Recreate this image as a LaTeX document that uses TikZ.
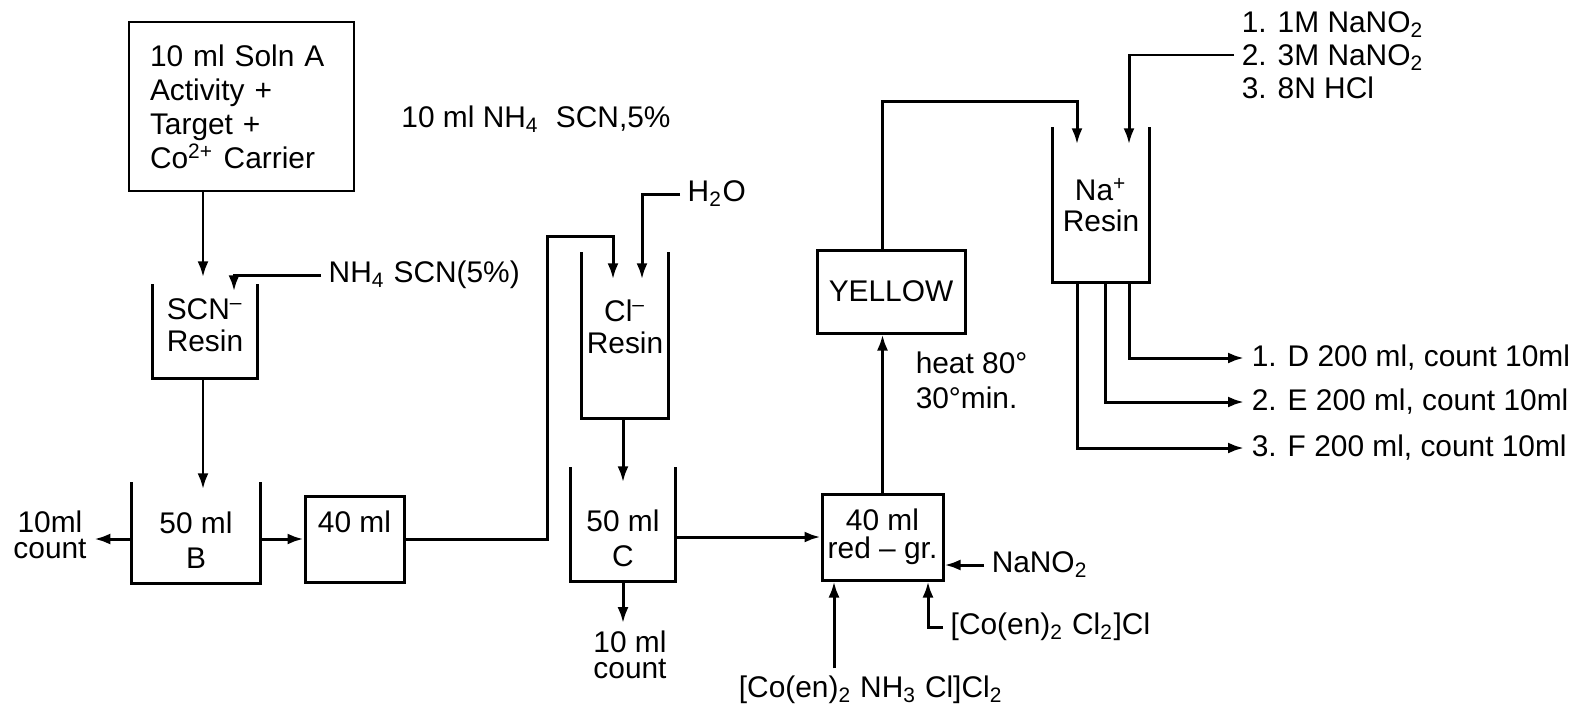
\documentclass[tikz,border=0pt]{standalone}
\usepackage{fontspec}
\setmainfont{Liberation Sans}
\usetikzlibrary{arrows.meta}

\begin{document}
\begin{tikzpicture}[
		x=0.1mm, y=-0.1mm,
		font=\fontsize{8.5}{10}\selectfont,
		b/.style = {rectangle, draw, line width=0.85pt, inner sep=0pt, align=center},
		v/.style = {rectangle, inner sep=0pt},
		t/.style = {inner sep=2pt, align=center},
		w/.style = {line width=0.85pt},
		r/.style = {-{Latex[length=1.6mm, width=1.1mm]}, line width=0.85pt}
		]
		\useasboundingbox (0,0) rectangle (1584,712);

		%Boxes
		\node[b, minimum width=22.5mm, minimum height=16.9mm, text width=18.3mm, align=left, font=\fontsize{8.5}{9.7}\selectfont]	(soln)	at	(241.5,106.5)	{10 ml Soln A\\Activity +\\Target +\\Co\textsuperscript{2+} Carrier};
		\node[b, minimum width=9.9mm, minimum height=8.6mm]	(box40)	at	(354.5,539)	{40 ml\\\mbox{}};
		\node[b, minimum width=12.1mm, minimum height=8.6mm, font=\fontsize{8.5}{8}\selectfont]	(redgr)	at	(882.5,537)	{40 ml\\red – gr.};
		\node[b, minimum width=14.8mm, minimum height=8.3mm]	(yellow)	at	(891,291.5)	{YELLOW};

		%Vessels
		\node[v, minimum width=10.4mm, minimum height=9.3mm]	(scnres)	at	(205,331.5)	{};
		\node[v, minimum width=12.8mm, minimum height=10mm]	(beakB)	at	(196,533)	{};
		\node[v, minimum width=8.6mm, minimum height=16.5mm]	(clres)	at	(625,335.5)	{};
		\node[v, minimum width=10.4mm, minimum height=11.3mm]	(beakC)	at	(623,524.5)	{};
		\node[v, minimum width=9.6mm, minimum height=15.4mm]	(nares)	at	(1101,205)	{};
		\node[t, yshift=0.65mm]	(scntxt)	at	(scnres)	{SCN\textsuperscript{–}\\[-1pt]Resin};
		\node[t, yshift=-0.7mm]	(btxt)	at	(beakB)	{50 ml\\B};
		\node[t, yshift=0.85mm]	(cltxt)	at	(clres)	{Cl\textsuperscript{–}\\[-1pt]Resin};
		\node[t, yshift=-1.4mm]	(ctxt)	at	(beakC)	{50 ml\\C};
		\node[t]	(natxt)	at	(nares)	{Na\textsuperscript{+}\\[-1pt]Resin};

		%Labels
		\node[t]	(nhten)	at	(536,119)	{10 ml NH\textsubscript{4}\ \ SCN,5\%};
		\node[t, anchor=west]	(nhscn)	at	(321,275)	{NH\textsubscript{4} SCN(5\%)};
		\node[t, font=\fontsize{8.5}{7.5}\selectfont]	(cnt1)	at	(50,535)	{10ml\\count};
		\node[t, anchor=west]	(h2o)	at	(680,194)	{H\textsubscript{2}O};
		\node[t, font=\fontsize{8.5}{7.5}\selectfont]	(cnt2)	at	(630,655)	{10 ml\\count};
		\node[t, anchor=west]	(nano2)	at	(984,565)	{NaNO\textsubscript{2}};
		\node[t]	(coa)	at	(871,690)	{[Co(en)\textsubscript{2} NH\textsubscript{3} Cl]Cl\textsubscript{2}};
		\node[t, anchor=west]	(cob)	at	(943,627)	{[Co(en)\textsubscript{2} Cl\textsubscript{2}]Cl};
		\node[t, anchor=west, align=left]	(heat)	at	(908,380)	{heat 80°\\30°min.};
		\node[t, anchor=west, align=left, font=\fontsize{8.5}{9.4}\selectfont]	(elu)	at	(1234,55)	{1. 1M NaNO\textsubscript{2}\\2. 3M NaNO\textsubscript{2}\\3. 8N HCl};
		\node[t, anchor=west]	(outd)	at	(1244,358)	{1. D 200 ml, count 10ml};
		\node[t, anchor=west]	(oute)	at	(1244,402)	{2. E 200 ml, count 10ml};
		\node[t, anchor=west]	(outf)	at	(1244,448)	{3. F 200 ml, count 10ml};

		%Points
		\coordinate	(scnx)	at	([xshift=-0.2mm]scnres.center);
		\coordinate	(inscn)	at	([xshift=2.9mm, yshift=-0.7mm]scnres.north);
		\coordinate	(loop1)	at	([xshift=-7.8mm, yshift=1.6mm]clres.north);
		\coordinate	(incl1)	at	([xshift=-1.2mm, yshift=-2.7mm]clres.north);
		\coordinate	(incl2)	at	([xshift=1.7mm, yshift=-2.7mm]clres.north);
		\coordinate	(loop2)	at	([yshift=2.6mm]nares.north);
		\coordinate	(inna1)	at	([xshift=-2.4mm, yshift=-1.7mm]nares.north);
		\coordinate	(inna2)	at	([xshift=2.8mm, yshift=-1.7mm]nares.north);
		\coordinate	(ina)	at	([xshift=-4.85mm]redgr.south);
		\coordinate	(inb)	at	([xshift=4.55mm]redgr.south);
		\coordinate	(outd0)	at	([xshift=2.8mm]nares.south);
		\coordinate	(oute0)	at	([xshift=0.4mm]nares.south);
		\coordinate	(outf0)	at	([xshift=-2.4mm]nares.south);

		%Walls
		\draw[w]	(scnres.north west)	|-	(scnres.south east)	--	(scnres.north east);
		\draw[w]	(beakB.north west)	|-	(beakB.south east)	--	(beakB.north east);
		\draw[w]	(clres.north west)	|-	(clres.south east)	--	(clres.north east);
		\draw[w]	(beakC.north west)	|-	(beakC.south east)	--	(beakC.north east);
		\draw[w]	(nares.north west)	|-	(nares.south east)	--	(nares.north east);

		%Lines
		\draw[r, shorten >=0.7mm]	(soln.south -| scnx)	--	(scnres.north -| scnx);
		\draw[r]	(nhscn.west)	-|	(inscn);
		\draw[r, shorten >=-0.7mm]	(scnres.south -| scnx)	--	(beakB.north -| scnx);
		\draw[r]	(beakB.west |- box40)	--	(cnt1.east |- box40);
		\draw[r]	(beakB.east |- box40)	--	(box40.west);
		\draw[r]	(box40.east)	-|	(loop1)	-|	(incl1);
		\draw[r]	(h2o.west)	-|	(incl2);
		\draw[r, shorten >=-1.5mm]	(clres.south -| beakC)	--	(beakC.north);
		\draw[r]	(beakC.south)	--	(beakC.south |- cnt2.north);
		\draw[r]	(beakC.east |- redgr)	--	(redgr.west);
		\draw[r]	(nano2.west)	--	(nano2.west -| redgr.east);
		\draw[r]	(ina |- coa.north)	--	(ina);
		\draw[r]	(cob.west)	-|	(inb);
		\draw[r]	(redgr.north)	--	(redgr.north |- yellow.south);
		\draw[r]	(yellow.north -| redgr.north)	|-	(inna1 |- loop2)	--	(inna1);
		\draw[r]	(elu.west)	-|	(inna2);
		\draw[r]	(outd0)	|-	(outd.west);
		\draw[r]	(oute0)	|-	(oute.west);
		\draw[r]	(outf0)	|-	(outf.west);
	\end{tikzpicture}
\end{document}
